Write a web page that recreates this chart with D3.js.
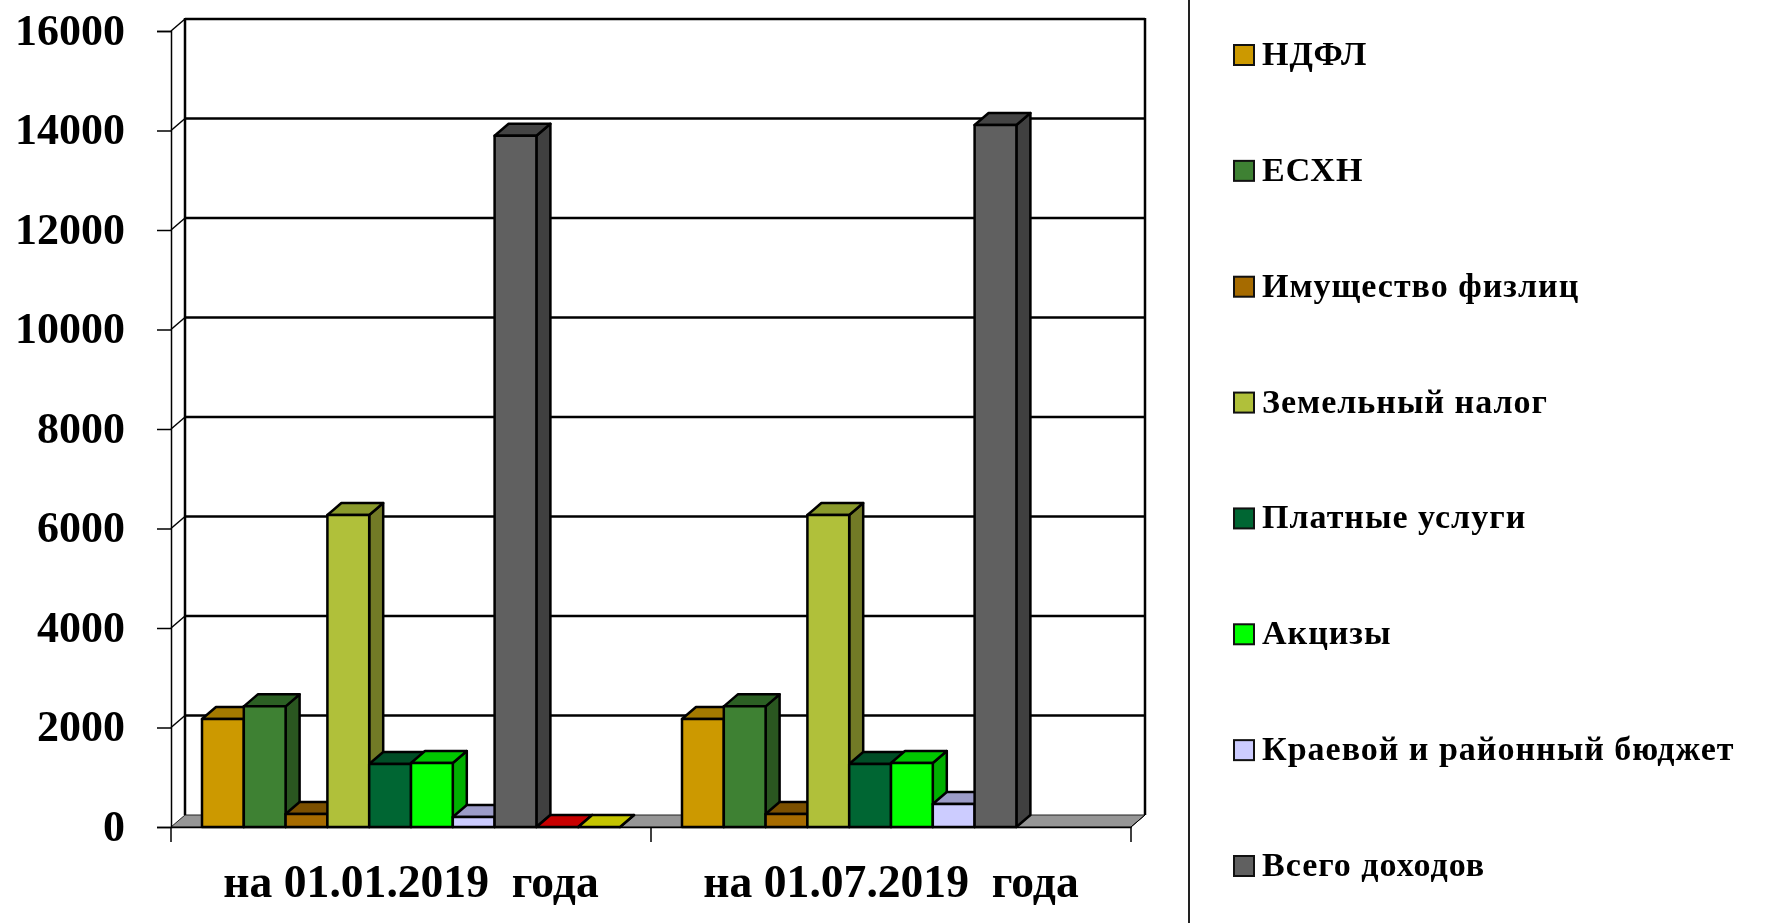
<!DOCTYPE html>
<html>
<head>
<meta charset="utf-8">
<script src="https://cdn.jsdelivr.net/npm/d3@7"></script>
<style>
  html, body { margin: 0; padding: 0; background: #fff; overflow: hidden; }
  svg { filter: blur(0.5px); }
  text { font-family: "Liberation Serif", serif; fill: #000; }
</style>
</head>
<body>
<div id="chart"></div>
<script>
const categories = ["на 01.01.2019  года", "на 01.07.2019  года"];
const yTicks = [0, 2000, 4000, 6000, 8000, 10000, 12000, 14000, 16000];

const ndfl = [2170, 2170];
const eshn = [2425, 2425];
const property = [260, 260];
const landTax = [6270, 6270];
const paidServices = [1266, 1266];
const excise = [1286, 1286];
const budget = [200, 462];
const totalIncome = [13895, 14110];
// two series without a legend entry, flat zero on the first date only
const unnamedRed = [0, null];
const unnamedYellow = [0, null];

const seriesNames = ["НДФЛ", "ЕСХН", "Имущество физлиц", "Земельный налог", "Платные услуги",
                     "Акцизы", "Краевой и районный бюджет", "Всего доходов", "", ""];
const seriesValues = [ndfl, eshn, property, landTax, paidServices, excise, budget, totalIncome,
                      unnamedRed, unnamedYellow];

// front, top, side
const fills = [
  ["#cc9900", "#a37a00", "#7a5c00"],
  ["#3e8133", "#2c6024", "#2a5620"],
  ["#a66b00", "#7c5000", "#7c5000"],
  ["#b0c03a", "#8a9a2c", "#727a26"],
  ["#006633", "#004d26", "#004d26"],
  ["#00ff00", "#00c800", "#00b000"],
  ["#ccccff", "#9c9cc8", "#9c9cc8"],
  ["#606060", "#444444", "#404040"],
  ["#ff0000", "#c80000", "#c80000"],
  ["#cccc00", "#c4c400", "#c4c400"]
];

const width = 1773, height = 923;
const depth = {x: 14, y: 12};
const plot = {left: 171, right: 1131, top: 31, bottom: 827};

const svg = d3.select("#chart").append("svg")
  .attr("width", width)
  .attr("height", height)
  .style("display", "block");

const y = d3.scaleLinear().domain([0, 16000]).range([plot.bottom, plot.top]);
const x0 = d3.scaleBand().domain(categories).range([plot.left, plot.right]);
const x1 = d3.scaleBand().domain(d3.range(seriesNames.length)).range([31, x0.bandwidth() - 31]);

const poly = pts => pts.map(p => p.join(",")).join(" ");

// floor
svg.append("polygon")
  .attr("points", poly([[plot.left, y(0)], [plot.right, y(0)],
                        [plot.right + depth.x, y(0) - depth.y], [plot.left + depth.x, y(0) - depth.y]]))
  .attr("fill", "#969696")
  .attr("stroke", "#222")
  .attr("stroke-width", 1);

// back wall gridlines
svg.append("g").selectAll("line")
  .data(yTicks.filter(d => d > 0))
  .enter().append("line")
  .attr("x1", plot.left + depth.x)
  .attr("x2", plot.right + depth.x)
  .attr("y1", d => y(d) - depth.y)
  .attr("y2", d => y(d) - depth.y)
  .attr("stroke", "#000")
  .attr("stroke-width", 2.5);

// side wall ties
svg.append("g").selectAll("line")
  .data(yTicks.filter(d => d > 0))
  .enter().append("line")
  .attr("x1", plot.left)
  .attr("x2", plot.left + depth.x)
  .attr("y1", d => y(d))
  .attr("y2", d => y(d) - depth.y)
  .attr("stroke", "#000")
  .attr("stroke-width", 1.5);

[plot.left + depth.x, plot.right + depth.x].forEach(wx => {
  svg.append("line")
    .attr("x1", wx).attr("x2", wx)
    .attr("y1", y(16000) - depth.y - 1).attr("y2", y(0) - depth.y)
    .attr("stroke", "#000")
    .attr("stroke-width", 2.5);
});
svg.append("line")
  .attr("x1", plot.right).attr("x2", plot.right + depth.x)
  .attr("y1", y(0)).attr("y2", y(0) - depth.y)
  .attr("stroke", "#000");

// bars
categories.forEach((cat, c) => {
  const g = svg.append("g").attr("transform", `translate(${x0(cat)},0)`);
  seriesValues.forEach((vals, s) => {
    const v = vals[c];
    if (v === null) return;
    const l = x1(s), r = l + x1.bandwidth(), t = y(v), b = y(0);
    const bar = g.append("g")
      .attr("stroke", "#000")
      .attr("stroke-width", 2.5)
      .attr("stroke-linejoin", "round");
    bar.append("polygon")
      .attr("points", poly([[r, t], [r + depth.x, t - depth.y], [r + depth.x, b - depth.y], [r, b]]))
      .attr("fill", fills[s][2]);
    bar.append("polygon")
      .attr("points", poly([[l, t], [l + depth.x, t - depth.y], [r + depth.x, t - depth.y], [r, t]]))
      .attr("fill", fills[s][1]);
    bar.append("rect")
      .attr("x", l).attr("y", t)
      .attr("width", x1.bandwidth()).attr("height", b - t)
      .attr("fill", fills[s][0]);
  });
});

// y axis
const yAxis = svg.append("g")
  .attr("transform", `translate(${plot.left},0)`)
  .call(d3.axisLeft(y).tickValues(yTicks).tickFormat(d3.format("d")).tickSize(14).tickPadding(32));
yAxis.select(".domain").attr("stroke", "#000").attr("stroke-width", 1.5);
yAxis.selectAll(".tick line").attr("stroke", "#000").attr("stroke-width", 1.5);
yAxis.selectAll("text")
  .style("font-size", "44px")
  .style("font-weight", "bold")
  .attr("dy", "0.3em");
svg.append("line")
  .attr("x1", plot.left).attr("x2", plot.left)
  .attr("y1", y(0)).attr("y2", y(0) + 15)
  .attr("stroke", "#000").attr("stroke-width", 1.5);

// x axis
const xAxis = svg.append("g")
  .attr("transform", `translate(0,${plot.bottom})`)
  .call(d3.axisBottom(x0).tickSize(0).tickPadding(38));
xAxis.select(".domain").attr("stroke", "#000").attr("stroke-width", 1.5);
xAxis.selectAll("text")
  .style("font-size", "45.6px")
  .style("font-weight", "bold")
  .style("white-space", "pre");
svg.append("g").selectAll("line")
  .data(categories)
  .enter().append("line")
  .attr("x1", d => x0(d) + x0.bandwidth())
  .attr("x2", d => x0(d) + x0.bandwidth())
  .attr("y1", y(0))
  .attr("y2", y(0) + 15)
  .attr("stroke", "#000")
  .attr("stroke-width", 1.5);

// legend
svg.append("line")
  .attr("x1", 1189).attr("x2", 1189)
  .attr("y1", 0).attr("y2", height)
  .attr("stroke", "#222")
  .attr("stroke-width", 2);

const legendNames = seriesNames.filter(d => d !== "");
const legendY = d3.scalePoint().domain(legendNames).range([55, 866]);
const legend = svg.append("g").selectAll("g")
  .data(legendNames)
  .enter().append("g")
  .attr("transform", d => `translate(1234,${legendY(d)})`);
legend.append("rect")
  .attr("x", 0).attr("y", -10)
  .attr("width", 20).attr("height", 20)
  .attr("fill", (d, i) => fills[i][0])
  .attr("stroke", "#111")
  .attr("stroke-width", 2);
legend.append("text")
  .attr("x", 28)
  .attr("y", 10)
  .style("font-size", "34px")
  .style("font-weight", "bold")
  .style("letter-spacing", "1px")
  .text(d => d);
</script>
</body>
</html>
